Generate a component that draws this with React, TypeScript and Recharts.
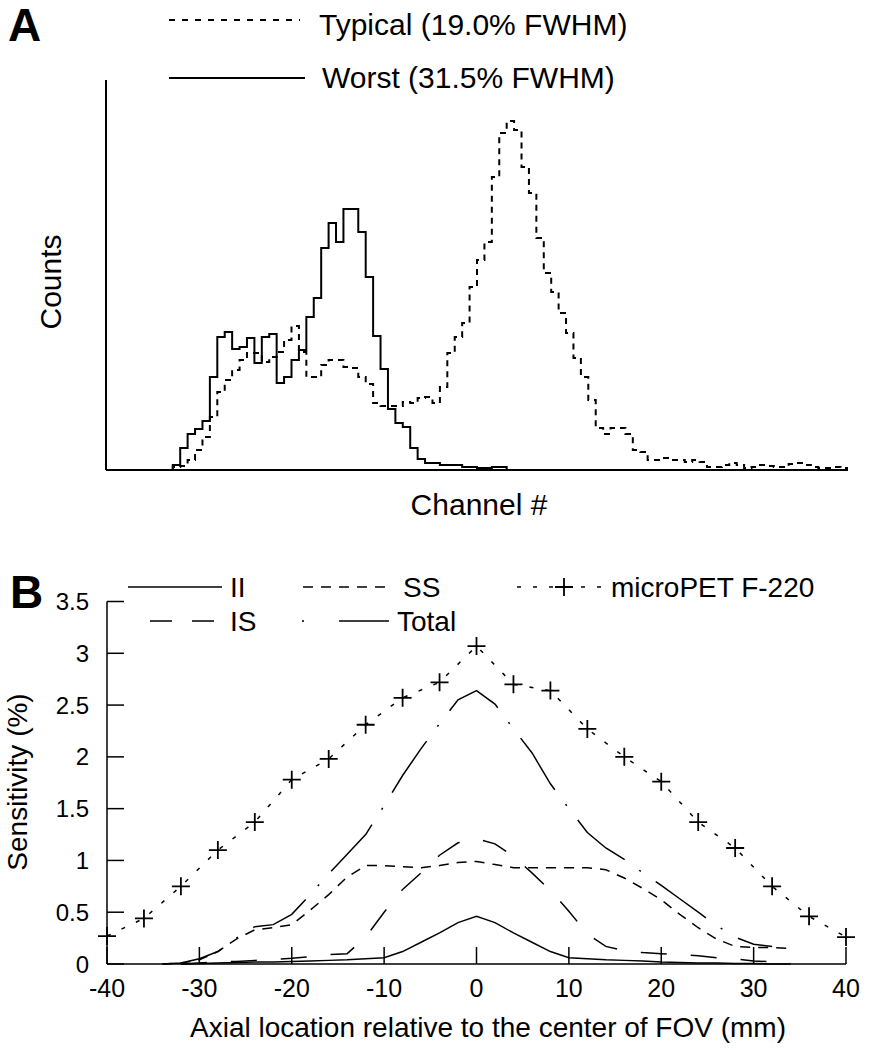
import React from "react"
import { LineChart, Line, XAxis, YAxis, Legend, Label } from "recharts"

const FONT = "'Liberation Sans', Arial, Helvetica, sans-serif"

// Panel A: energy spectra, 100 channels, counts in arbitrary units
const typicalCounts = [
    0, 0, 0, 0, 0, 0, 0, 0, 0,
    3, 4, 10, 20, 33, 53, 78, 90, 100, 110, 117,
    117, 108, 113, 118, 130, 144, 118, 93, 93, 105,
    110, 110, 103, 102, 93, 86, 67, 64, 64, 64,
    68, 67, 72, 73, 67, 83, 117, 133, 147, 183,
    210, 228, 293, 337, 349, 340, 303, 277, 232, 197,
    178, 157, 137, 112, 93, 70, 42, 36, 42, 42,
    36, 20, 18, 10, 10, 12, 10, 10, 8, 10,
    8, 3, 3, 5, 7, 5, 2, 3, 5, 4,
    3, 3, 6, 7, 5, 3, 2, 2, 3, 2,
]

const worstCounts = [
    0, 0, 0, 0, 0, 0, 0, 0, 0,
    5, 22, 36, 41, 49, 93, 133, 138, 121, 123, 132,
    107, 133, 136, 87, 93, 110, 120, 153, 172, 222,
    247, 228, 261, 261, 238, 193, 134, 101, 61, 47,
    43, 22, 11, 7, 7, 5, 5, 5, 3, 3,
    2, 2, 3, 3, 0, 0, 0, 0, 0, 0,
    0, 0, 0, 0, 0, 0, 0, 0, 0, 0,
    0, 0, 0, 0, 0, 0, 0, 0, 0, 0,
    0, 0, 0, 0, 0, 0, 0, 0, 0, 0,
    0, 0, 0, 0, 0, 0, 0, 0, 0, 0,
]

// Panel B: sensitivity (%) vs axial location (mm)
const axialPositions = [
    -40, -38, -36, -34, -32, -30, -28, -26, -24, -22, -20, -18, -16, -14, -12, -10, -8, -6, -4, -2,
    0, 2, 4, 6, 8, 10, 12, 14, 16, 18, 20, 22, 24, 26, 28, 30, 32, 34, 36, 38, 40,
]

const iiValues = [
    null, null, null, null, 0, 0.005, 0.01, 0.015, 0.02, 0.02, 0.025, 0.03, 0.035, 0.04, 0.05, 0.06, 0.12, 0.21, 0.3, 0.4,
    0.46, 0.4, 0.3, 0.21, 0.12, 0.06, 0.05, 0.04, 0.035, 0.03, 0.02, 0.015, 0.01, 0.01, 0.005, 0.005, 0, 0, null, null, null,
]

const ssValues = [
    null, null, null, 0, 0.01, 0.04, 0.12, 0.24, 0.33, 0.35, 0.38, 0.52, 0.67, 0.84, 0.95, 0.95, 0.94, 0.93, 0.95, 0.98,
    0.99, 0.96, 0.93, 0.93, 0.93, 0.93, 0.93, 0.91, 0.83, 0.73, 0.62, 0.48, 0.35, 0.24, 0.17, 0.16, 0.16, 0.15, null, null, null,
]

const isValues = [
    null, null, null, null, 0, 0.01, 0.02, 0.025, 0.035, 0.045, 0.055, 0.07, 0.09, 0.1, 0.26, 0.5, 0.72, 0.88, 1.05, 1.17,
    1.21, 1.16, 1.04, 0.88, 0.71, 0.51, 0.29, 0.17, 0.13, 0.11, 0.1, 0.09, 0.08, 0.06, 0.05, 0.03, 0.02, 0.01, null, null, null,
]

const totalValues = [
    null, null, null, 0, 0.01, 0.05, 0.12, 0.25, 0.36, 0.38, 0.48, 0.67, 0.87, 1.06, 1.25, 1.53, 1.82, 2.08, 2.32, 2.55,
    2.64, 2.51, 2.27, 2.04, 1.74, 1.5, 1.27, 1.12, 1.01, 0.88, 0.76, 0.63, 0.5, 0.37, 0.26, 0.19, 0.17, null, null, null, null,
]

const microPetValues = [
    0.27, null, 0.44, null, 0.75, null, 1.1, null, 1.37, null, 1.78, null, 1.98, null, 2.31, null, 2.57, null, 2.72, null,
    3.07, null, 2.7, null, 2.64, null, 2.27, null, 2.0, null, 1.76, null, 1.37, null, 1.12, null, 0.75, null, 0.46, null, 0.26,
]

const axialTicks = [-40, -30, -20, -10, 0, 10, 20, 30, 40]
const sensitivityTicks = [0, 0.5, 1, 1.5, 2, 2.5, 3, 3.5]

const spectrumRows = typicalCounts.map((t, ch) => ({ channel: ch, typical: t, worst: worstCounts[ch] }))
// closing point so the last step bin has a right edge
spectrumRows.push({
    channel: typicalCounts.length,
    typical: typicalCounts[typicalCounts.length - 1],
    worst: worstCounts[worstCounts.length - 1],
})

const sensitivityRows = axialPositions.map((pos, i) => ({
    pos,
    ii: iiValues[i],
    ss: ssValues[i],
    is: isValues[i],
    total: totalValues[i],
    micro: microPetValues[i],
}))

function PlusDot(props: any) {
    const { cx, cy, index } = props
    if (cx == null || cy == null) return <g key={`p-${index}`} />
    return (
        <path
            key={`p-${index}`}
            d={`M${cx - 9},${cy}H${cx + 9}M${cx},${cy - 9}V${cy + 9}`}
            stroke="#000"
            strokeWidth={1.8}
            fill="none"
        />
    )
}

function LegendA() {
    return (
        <svg width={871} height={110} style={{ display: "block" }}>
            <text x={8} y={41} fontFamily={FONT} fontWeight="bold" fontSize={46} fill="#000">A</text>
            <line x1={169} y1={20} x2={300} y2={20} stroke="#000" strokeWidth={2} strokeDasharray="6 7" />
            <text x={319} y={35} fontFamily={FONT} fontSize={30} fill="#000">Typical (19.0% FWHM)</text>
            <line x1={169} y1={78} x2={305} y2={78} stroke="#000" strokeWidth={2} />
            <text x={322} y={88} fontFamily={FONT} fontSize={30} fill="#000">Worst (31.5% FWHM)</text>
        </svg>
    )
}

function LegendB() {
    return (
        <svg width={871} height={90} style={{ display: "block" }}>
            <text x={10} y={48} fontFamily={FONT} fontWeight="bold" fontSize={46} fill="#000">B</text>
            <line x1={128} y1={27} x2={222} y2={27} stroke="#000" strokeWidth={1.5} />
            <text x={230} y={37} fontFamily={FONT} fontSize={28} fill="#000">II</text>
            <line x1={303} y1={27} x2={392} y2={27} stroke="#000" strokeWidth={1.5} strokeDasharray="10 8" />
            <text x={403} y={37} fontFamily={FONT} fontSize={28} fill="#000">SS</text>
            <line x1={517} y1={27} x2={606} y2={27} stroke="#000" strokeWidth={1.5} strokeDasharray="4 12" />
            <path d="M555,27H573M564,18V36" stroke="#000" strokeWidth={1.8} />
            <text x={611} y={37} fontFamily={FONT} fontSize={28} fill="#000">microPET F-220</text>
            <line x1={150} y1={61} x2={214} y2={61} stroke="#000" strokeWidth={1.5} strokeDasharray="22 20" />
            <text x={230} y={71} fontFamily={FONT} fontSize={28} fill="#000">IS</text>
            <line x1={302} y1={61} x2={389} y2={61} stroke="#000" strokeWidth={1.5} strokeDasharray="2 35 50 100" />
            <text x={397} y={71} fontFamily={FONT} fontSize={28} fill="#000">Total</text>
        </svg>
    )
}

const legendWrap = { top: 0, left: 0, width: 871, margin: 0, padding: 0 }

export default function App() {
    return (
        <div style={{ position: "absolute", left: 0, top: 0, width: 871, height: 1050, background: "#fff" }}>
            <div style={{ position: "absolute", left: 0, top: 0 }}>
                <LineChart width={871} height={540} data={spectrumRows} margin={{ top: 80, right: 23, bottom: 0, left: 0 }}>
                    <XAxis
                        dataKey="channel"
                        type="number"
                        domain={[0, 100]}
                        tick={false}
                        tickLine={false}
                        axisLine={{ stroke: "#000", strokeWidth: 2 }}
                        height={70}
                    >
                        <Label
                            content={() => (
                                <text x={479} y={515} textAnchor="middle" fontFamily={FONT} fontSize={30} fill="#000">
                                    Channel #
                                </text>
                            )}
                        />
                    </XAxis>
                    <YAxis
                        type="number"
                        domain={[0, 390]}
                        tick={false}
                        tickLine={false}
                        axisLine={{ stroke: "#000", strokeWidth: 2 }}
                        width={106}
                    >
                        <Label
                            content={() => (
                                <text
                                    x={61}
                                    y={282}
                                    textAnchor="middle"
                                    transform="rotate(-90 61 282)"
                                    fontFamily={FONT}
                                    fontSize={30}
                                    fill="#000"
                                >
                                    Counts
                                </text>
                            )}
                        />
                    </YAxis>
                    <Legend
                        layout="horizontal"
                        verticalAlign="middle"
                        align="center"
                        wrapperStyle={legendWrap}
                        content={() => <LegendA />}
                    />
                    <Line
                        type="stepAfter"
                        dataKey="typical"
                        stroke="#000"
                        strokeWidth={2}
                        strokeDasharray="6 5"
                        dot={false}
                        activeDot={false}
                        isAnimationActive={false}
                    />
                    <Line
                        type="stepAfter"
                        dataKey="worst"
                        stroke="#000"
                        strokeWidth={2}
                        dot={false}
                        activeDot={false}
                        isAnimationActive={false}
                    />
                </LineChart>
            </div>

            <div style={{ position: "absolute", left: 0, top: 560 }}>
                <LineChart width={871} height={490} data={sensitivityRows} margin={{ top: 41.5, right: 25, bottom: 0, left: 0 }}>
                    <XAxis
                        dataKey="pos"
                        type="number"
                        domain={[-40, 40]}
                        ticks={axialTicks}
                        interval={0}
                        tickSize={-17}
                        tickMargin={32}
                        tick={{ fill: "#000", fontSize: 25, fontFamily: FONT }}
                        tickLine={{ stroke: "#000", strokeWidth: 1.5 }}
                        axisLine={{ stroke: "#000", strokeWidth: 1.5 }}
                        height={86}
                    >
                        <Label
                            content={() => (
                                <text x={488} y={477} textAnchor="middle" fontFamily={FONT} fontSize={28} fill="#000">
                                    Axial location relative to the center of FOV (mm)
                                </text>
                            )}
                        />
                    </XAxis>
                    <YAxis
                        type="number"
                        domain={[0, 3.5]}
                        ticks={sensitivityTicks}
                        interval={0}
                        tickSize={-17}
                        tickMargin={35}
                        tick={{ fill: "#000", fontSize: 24, fontFamily: FONT }}
                        tickLine={{ stroke: "#000", strokeWidth: 1.5 }}
                        axisLine={{ stroke: "#000", strokeWidth: 1.5 }}
                        width={107}
                    >
                        <Label
                            content={() => (
                                <text
                                    x={27}
                                    y={222}
                                    textAnchor="middle"
                                    transform="rotate(-90 27 222)"
                                    fontFamily={FONT}
                                    fontSize={28}
                                    fill="#000"
                                >
                                    Sensitivity (%)
                                </text>
                            )}
                        />
                    </YAxis>
                    <Legend
                        layout="horizontal"
                        verticalAlign="middle"
                        align="center"
                        wrapperStyle={legendWrap}
                        content={() => <LegendB />}
                    />
                    <Line type="linear" dataKey="ii" stroke="#000" strokeWidth={1.5} dot={false} activeDot={false} isAnimationActive={false} />
                    <Line type="linear" dataKey="ss" stroke="#000" strokeWidth={1.5} strokeDasharray="10 8" dot={false} activeDot={false} isAnimationActive={false} />
                    <Line type="linear" dataKey="is" stroke="#000" strokeWidth={1.5} strokeDasharray="26 24" dot={false} activeDot={false} isAnimationActive={false} />
                    <Line type="linear" dataKey="total" stroke="#000" strokeWidth={1.5} strokeDasharray="62 18 2 18" dot={false} activeDot={false} isAnimationActive={false} />
                    <Line
                        type="linear"
                        dataKey="micro"
                        stroke="#000"
                        strokeWidth={1.5}
                        strokeDasharray="4 12"
                        connectNulls
                        dot={PlusDot}
                        activeDot={false}
                        isAnimationActive={false}
                    />
                </LineChart>
            </div>
        </div>
    )
}
